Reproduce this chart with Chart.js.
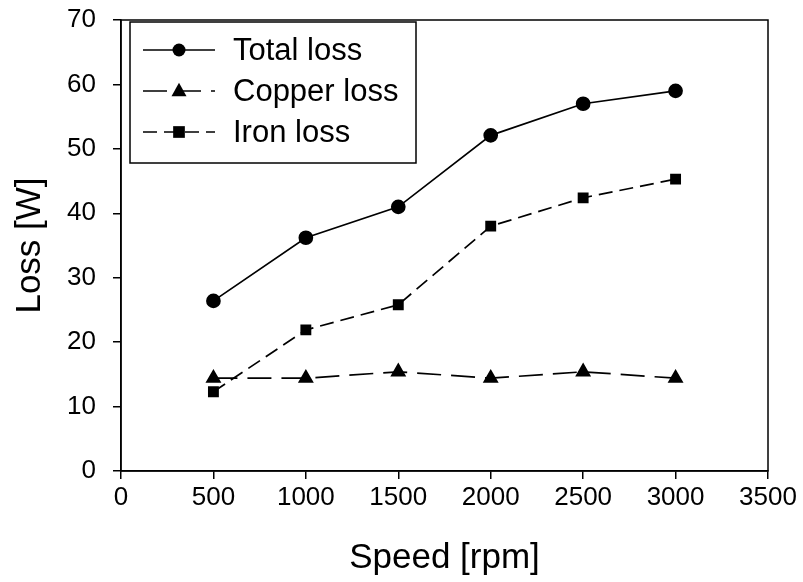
<!DOCTYPE html>
<html>
<head>
<meta charset="utf-8">
<script src="https://cdn.jsdelivr.net/npm/chart.js@4"></script>
<style>
  html, body { margin: 0; padding: 0; background: #fff; }
  #wrap { width: 803px; height: 582px; }
</style>
</head>
<body>
<div id="wrap"><canvas id="lossChart" width="803" height="582"></canvas></div>
<script>
// data
const SPEEDS      = [500, 1000, 1500, 2000, 2500, 3000];
const TOTAL_LOSS  = [26.4, 36.2, 41.0, 52.1, 57.0, 59.0];
const COPPER_LOSS = [14.4, 14.4, 15.4, 14.4, 15.4, 14.4];
const IRON_LOSS   = [12.3, 21.9, 25.8, 38.0, 42.4, 45.3];
const SERIES_NAMES = ['Total loss', 'Copper loss', 'Iron loss'];

const FONT = '"Liberation Sans", Arial, sans-serif';
const INK  = '#000';

/* frame round the plot + legend box inside the top-left corner */
const frameLegendPlugin = {
    id: 'frameLegend',
    afterDraw(chart) {
        const { ctx, chartArea: a } = chart;
        ctx.save();
        ctx.strokeStyle = INK;
        ctx.lineWidth = 1.5;
        ctx.strokeRect(a.left, a.top, a.right - a.left, a.bottom - a.top);

        // legend box
        const bx = a.left + 9, by = a.top + 2, bw = 286, bh = 141;
        ctx.strokeRect(bx, by, bw, bh);

        ctx.font = '31px ' + FONT;
        ctx.textBaseline = 'middle';
        ctx.fillStyle = INK;
        chart.data.datasets.forEach((ds, i) => {
            const y = by + 28 + i * 41;
            const x0 = bx + 13, x1 = bx + 85, xm = (x0 + x1) / 2;
            ctx.setLineDash(ds.borderDash || []);
            ctx.lineWidth = 1.5;
            ctx.beginPath();
            ctx.moveTo(x0, y);
            ctx.lineTo(x1, y);
            ctx.stroke();
            ctx.setLineDash([]);
            drawMarker(ctx, ds.pointStyle, xm, y, ds.pointRadius);
            ctx.fillText(ds.label, bx + 103, y + 1);
        });
        ctx.restore();
    },
};

function drawMarker(ctx, style, x, y, r) {
    ctx.beginPath();
    if (style === 'circle') {
        ctx.arc(x, y, r, 0, Math.PI * 2);
    } else if (style === 'triangle') {
        ctx.moveTo(x, y - r * 1.1);
        ctx.lineTo(x + r, y + r * 0.7);
        ctx.lineTo(x - r, y + r * 0.7);
        ctx.closePath();
    } else {
        const s = r * 0.9;
        ctx.rect(x - s, y - s, s * 2, s * 2);
    }
    ctx.fill();
}

const toPoints = vals => SPEEDS.map((s, i) => ({ x: s, y: vals[i] }));

new Chart(document.getElementById('lossChart').getContext('2d'), {
    type: 'line',
    plugins: [frameLegendPlugin],
    data: {
        datasets: [
            { label: SERIES_NAMES[0], data: toPoints(TOTAL_LOSS), borderColor: INK, backgroundColor: INK,
              borderWidth: 1.7, pointStyle: 'circle', pointRadius: 6.5, borderDash: [] },
            { label: SERIES_NAMES[1], data: toPoints(COPPER_LOSS), borderColor: INK, backgroundColor: INK,
              borderWidth: 1.7, pointStyle: 'triangle', pointRadius: 7.5, borderDash: [24, 10] },
            { label: SERIES_NAMES[2], data: toPoints(IRON_LOSS), borderColor: INK, backgroundColor: INK,
              borderWidth: 1.7, pointStyle: 'rect', pointRadius: 6.5, borderDash: [14, 7] },
        ],
    },
    options: {
        responsive: false,
        animation: false,
        layout: { padding: { top: 20, right: 35, left: 0, bottom: 0 } },
        plugins: { legend: { display: false }, tooltip: { enabled: false } },
        elements: { line: { tension: 0 }, point: { borderWidth: 0 } },
        scales: {
            x: {
                type: 'linear', min: 0, max: 3500,
                ticks: { stepSize: 500, color: INK, font: { family: FONT, size: 26 }, padding: 3, maxRotation: 0,
                         callback: v => String(v) },
                grid: { display: true, drawOnChartArea: false, tickLength: 8, color: INK, lineWidth: 1.5 },
                border: { display: true, color: INK, width: 1.5 },
                title: { display: true, text: 'Speed [rpm]', color: INK, font: { family: FONT, size: 35 }, padding: { top: 0, bottom: 3 } },
                afterFit(scale) { scale.height = 111; scale.paddingLeft = 0; scale.paddingRight = 0; },
            },
            y: {
                min: 0, max: 70,
                ticks: { stepSize: 10, color: INK, font: { family: FONT, size: 26 }, padding: 17,
                         callback: v => String(v) },
                grid: { display: true, drawOnChartArea: false, tickLength: 8, color: INK, lineWidth: 1.5 },
                border: { display: true, color: INK, width: 1.5 },
                title: { display: true, text: 'Loss [W]', color: INK, font: { family: FONT, size: 35 }, padding: { top: 9, bottom: 0 } },
                afterFit(scale) { scale.width = 121; scale.paddingTop = 0; scale.paddingBottom = 0; },
            },
        },
    },
});
</script>
</body>
</html>
